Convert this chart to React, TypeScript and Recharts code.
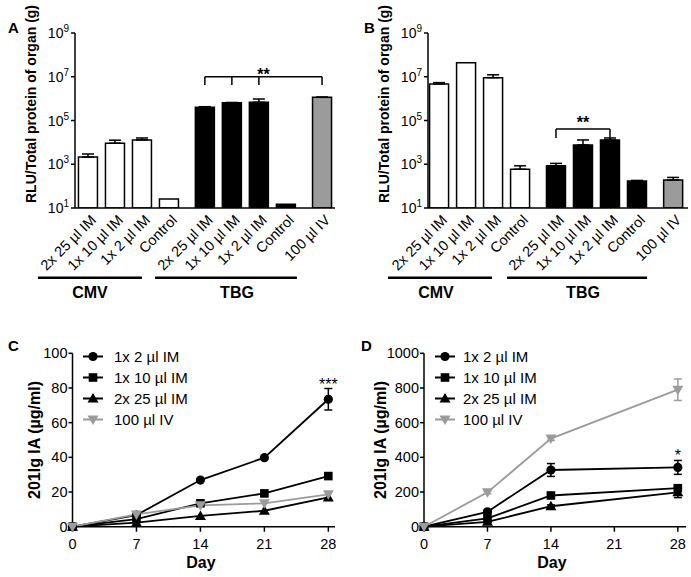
import React from 'react';
import {
  BarChart, Bar, Cell, XAxis, YAxis, ErrorBar, ReferenceLine, ReferenceDot,
  LineChart, Line, Legend, Label,
} from 'recharts';

const FONT = '"Liberation Sans", Arial, Helvetica, sans-serif';
const GRAY = '#9b9b9b';

// ---- panels A and B (RLU per organ, log axis) ----
const barLabels = [
  '2x 25 µl IM', '1x 10 µl IM', '1x 2 µl IM', 'Control',
  '2x 25 µl IM', '1x 10 µl IM', '1x 2 µl IM', 'Control',
  '100 µl IV',
];
const rluA = [2140, 9100, 12900, 26, 400000, 650000, 680000, 15, 1150000];
const rluAErr = [800, 3500, 3000, 0, 28000, 15000, 280000, 0, 15000];
const rluB = [4700000, 44000000, 9100000, 590, 850, 7600, 12900, 170, 190];
const rluBErr = [700000, 0, 3200000, 260, 245, 5300, 3000, 12, 60];
const logTicks = [1e1, 1e3, 1e5, 1e7, 1e9];

// significance brackets (bar indexes, levels on the y axis)
const bracketA = { level: 1e7, foot: 4.2e6, from: 4, to: 8, drops: [4, 5, 6, 8], mark: '**' };
const bracketB = { level: 4.1e4, foot: 1.6e4, from: 4, to: 6, drops: [4, 6], mark: '**' };

// ---- panels C and D (serum IgA over time) ----
const days = [0, 7, 14, 21, 28];
const seriesNames = ['1x 2 µl IM', '1x 10 µl IM', '2x 25 µl IM', '100 µl IV'];
const dayTicks = [0, 7, 14, 21, 28];

const cDose2 = [0, 6.7, 26.9, 39.8, 73.5];
const cDose2Err = [0, 0, 0, 0, 6.2];
const cDose10 = [0, 4.4, 13.5, 19.2, 29.2];
const cDose10Err = [0, 0, 0, 0, 0];
const cDose25 = [0, 2.3, 6.2, 9.2, 16.9];
const cDose25Err = [0, 0, 0, 0, 0];
const cIv = [0, 7.1, 12.3, 13.5, 18.7];
const cIvErr = [0, 0, 0, 0, 0];
const cTicks = [0, 20, 40, 60, 80, 100];

const dDose2 = [0, 86, 327, null, 342];
const dDose2Err = [0, 10, 37, null, 40];
const dDose10 = [0, 48, 180, null, 222];
const dDose10Err = [0, 5, 10, null, 14];
const dDose25 = [0, 28, 118, null, 198];
const dDose25Err = [0, 3, 8, null, 30];
const dIv = [0, 198, 508, null, 790];
const dIvErr = [0, 8, 10, null, 62];
const dTicks = [0, 200, 400, 600, 800, 1000];

// layout / style
const slotX = [0, 1, 2, 3, 4.33, 5.33, 6.33, 7.33, 8.67];
const barFill = ['#fff', '#fff', '#fff', '#fff', '#000', '#000', '#000', '#000', GRAY];
const series = [
  { key: 'd2', shape: 'circle', color: '#000' },
  { key: 'd10', shape: 'square', color: '#000' },
  { key: 'd25', shape: 'up', color: '#000' },
  { key: 'iv', shape: 'down', color: GRAY },
];

const axisStroke = { stroke: '#000', strokeWidth: 1.5 };

const barRows = (values, errs) =>
  barLabels.map((label, i) => ({
    pos: slotX[i],
    label,
    value: values[i],
    err: errs[i] ? [0, errs[i]] : null,
  }));

const lineRows = (a, ae, b, be, c, ce, d, de) =>
  days.map((day, i) => ({
    day,
    d2: a[i], d2e: ae[i],
    d10: b[i], d10e: be[i],
    d25: c[i], d25e: ce[i],
    iv: d[i], ive: de[i],
  }));

const rowsA = barRows(rluA, rluAErr);
const rowsB = barRows(rluB, rluBErr);
const rowsC = lineRows(cDose2, cDose2Err, cDose10, cDose10Err, cDose25, cDose25Err, cIv, cIvErr);
const rowsD = lineRows(dDose2, dDose2Err, dDose10, dDose10Err, dDose25, dDose25Err, dIv, dIvErr);

const PowTick = ({ x, y, payload }) => {
  const exp = Math.round(Math.log10(payload.value));
  return (
    <text x={x} y={y} dy={5} textAnchor="end" fontSize={14} fontFamily={FONT} fill="#000">
      10<tspan dy={-6} fontSize={10}>{exp}</tspan>
    </text>
  );
};

const SlantTick = ({ x, y, payload }) => {
  const i = slotX.indexOf(payload.value);
  const ax = x + 9;
  const ay = y + 11;
  return (
    <text x={ax} y={ay} transform={`rotate(-45 ${ax} ${ay})`} textAnchor="end"
      fontSize={14.5} fontFamily={FONT} fill="#000">
      {barLabels[i]}
    </text>
  );
};

const Title = ({ x, y, text, rotate }) => (
  <text x={x} y={y} dy={rotate ? '0.35em' : 0} textAnchor="middle"
    transform={rotate ? `rotate(-90 ${x} ${y})` : undefined}
    fontSize={rotate === 'small' ? 14 : 16} fontWeight="bold" fontFamily={FONT} fill="#000">
    {text}
  </text>
);

const Marker = ({ cx, cy, shape, color }) => {
  if (cx == null || cy == null) return <g />;
  if (shape === 'circle') return <circle cx={cx} cy={cy} r={4.6} fill={color} />;
  if (shape === 'square') return <rect x={cx - 4.3} y={cy - 4.3} width={8.6} height={8.6} fill={color} />;
  if (shape === 'up')
    return <polygon points={`${cx},${cy - 5.5} ${cx + 5.5},${cy + 4} ${cx - 5.5},${cy + 4}`} fill={color} />;
  return <polygon points={`${cx - 5.5},${cy - 4} ${cx + 5.5},${cy - 4} ${cx},${cy + 5.5}`} fill={color} />;
};

const SeriesLegend = ({ gap }) => (
  <div style={{ fontFamily: FONT, fontSize: 15, color: '#000' }}>
    {series.map((s, k) => (
      <div key={s.key} style={{ height: 21, display: 'flex', alignItems: 'center' }}>
        <svg width={20 + gap} height={21} style={{ display: 'block' }}>
          <line x1={0} x2={20} y1={10.5} y2={10.5} stroke={s.color} strokeWidth={2} />
          <Marker cx={10} cy={10.5} shape={s.shape} color={s.color} />
        </svg>
        <span style={{ whiteSpace: 'nowrap' }}>{seriesNames[k]}</span>
      </div>
    ))}
  </div>
);

function BarPanel({ rows, width, yAxisWidth, marginRight, domain, bracket, markOffset, titleX }) {
  return (
    <BarChart width={width} height={300} data={rows} margin={{ top: 33, right: marginRight, bottom: 0, left: 0 }}>
      <XAxis dataKey="pos" type="number" domain={domain} ticks={slotX} interval={0} allowDataOverflow
        height={92} tickSize={0} tickLine={false} axisLine={axisStroke}
        tick={(p) => <SlantTick {...p} />} />
      <YAxis type="number" scale="log" domain={[10, 1e9]} ticks={logTicks} interval={0} allowDataOverflow
        width={yAxisWidth} tickSize={4} tickMargin={2} axisLine={axisStroke} tickLine={axisStroke}
        tick={(p) => <PowTick {...p} />}
        label={<Label content={() => <Title x={titleX} y={104} rotate="small" text="RLU/Total protein of organ (g)" />} />} />
      <Bar dataKey="value" barSize={19} stroke="#000" strokeWidth={1.5} isAnimationActive={false}>
        {rows.map((r, i) => <Cell key={i} fill={barFill[i]} />)}
        <ErrorBar dataKey="err" width={6} stroke="#000" strokeWidth={1.5} direction="y" />
      </Bar>
      <ReferenceLine
        segment={[{ x: slotX[bracket.from], y: bracket.level }, { x: slotX[bracket.to], y: bracket.level }]}
        stroke="#000" strokeWidth={1.5}
        label={{ value: bracket.mark, position: 'top', offset: markOffset, fontSize: 16, fontWeight: 'bold', fill: '#000' }} />
      {bracket.drops.map((d) => (
        <ReferenceLine key={d}
          segment={[{ x: slotX[d], y: bracket.level }, { x: slotX[d], y: bracket.foot }]}
          stroke="#000" strokeWidth={1.5} />
      ))}
    </BarChart>
  );
}

function LinePanel({ rows, width, yAxisWidth, marginRight, xMax, yMax, yTicks, mark, markY, legendLeft, legendGap, titleX }) {
  return (
    <LineChart width={width} height={277} data={rows} margin={{ top: 53.3, right: marginRight, bottom: 0, left: 0 }}>
      <XAxis dataKey="day" type="number" domain={[0, xMax]} ticks={dayTicks} interval={0}
        height={50.3} tickSize={5} tickMargin={7} axisLine={axisStroke} tickLine={axisStroke}
        tick={{ fill: '#000', fontSize: 14.5, fontFamily: FONT }}
        label={<Label content={() => <Title x={titleX.day} y={268} text="Day" />} />} />
      <YAxis type="number" domain={[0, yMax]} ticks={yTicks} interval={0}
        width={yAxisWidth} tickSize={4} tickMargin={1} axisLine={axisStroke} tickLine={axisStroke}
        tick={{ fill: '#000', fontSize: 14.5, fontFamily: FONT }}
        label={<Label content={() => <Title x={titleX.y} y={140} rotate="big" text="201Ig IA (µg/ml)" />} />} />
      <Legend layout="vertical" align="center" verticalAlign="middle"
        wrapperStyle={{ left: legendLeft, top: 45.5, width: 220 }}
        content={() => <SeriesLegend gap={legendGap} />} />
      {series.map((s, k) => (
        <Line key={s.key} dataKey={s.key} name={seriesNames[k]} type="linear" stroke={s.color}
          strokeWidth={1.8} connectNulls isAnimationActive={false} activeDot={false}
          dot={(p) => <Marker key={`${s.key}-${p.index}`} cx={p.cx} cy={p.cy} shape={s.shape} color={s.color} />}>
          <ErrorBar dataKey={`${s.key}e`} width={4} stroke={s.color} strokeWidth={1.5} direction="y" />
        </Line>
      ))}
      <ReferenceDot x={28} y={markY} r={0} fill="none" stroke="none" ifOverflow="visible"
        label={{ value: mark, position: 'top', offset: -1, fontSize: 16, fill: '#000' }} />
    </LineChart>
  );
}

export default function App() {
  const letter = { fontFamily: FONT, fontSize: 15, fontWeight: 'bold', fill: '#000' };
  const group = { fontFamily: FONT, fontSize: 16, fontWeight: 'bold', fill: '#000', textAnchor: 'middle' };
  return (
    <div style={{ position: 'absolute', left: 0, top: 0, width: 691, height: 577, background: '#fff', fontFamily: FONT }}>
      <div style={{ position: 'absolute', left: 0, top: 0 }}>
        <BarPanel rows={rowsA} width={345} yAxisWidth={75} marginRight={10} domain={[-0.48, 9.15]}
          bracket={bracketA} markOffset={-3} titleX={31} />
      </div>
      <div style={{ position: 'absolute', left: 345, top: 0 }}>
        <BarPanel rows={rowsB} width={346} yAxisWidth={83} marginRight={3} domain={[-0.41, 9.22]}
          bracket={bracketB} markOffset={1} titleX={39} />
      </div>
      <div style={{ position: 'absolute', left: 0, top: 300 }}>
        <LinePanel rows={rowsC} width={345} yAxisWidth={72.5} marginRight={10} xMax={28.73} yMax={100}
          yTicks={cTicks} mark="***" markY={79.7} legendLeft={83} legendGap={11} titleX={{ y: 34, day: 201 }} />
      </div>
      <div style={{ position: 'absolute', left: 345, top: 300 }}>
        <LinePanel rows={rowsD} width={346} yAxisWidth={79} marginRight={5} xMax={28.9} yMax={1000}
          yTicks={dTicks} mark="*" markY={382} legendLeft={90} legendGap={8} titleX={{ y: 35, day: 207 }} />
      </div>
      <svg width={691} height={577} style={{ position: 'absolute', left: 0, top: 0, pointerEvents: 'none' }}>
        <text x={8} y={33} {...letter}>A</text>
        <text x={364} y={33} {...letter}>B</text>
        <text x={8} y={351} {...letter}>C</text>
        <text x={361} y={351} {...letter}>D</text>
        <line x1={38} x2={142} y1={277.7} y2={277.7} stroke="#000" strokeWidth={2.5} />
        <line x1={155} x2={297} y1={277.7} y2={277.7} stroke="#000" strokeWidth={2.5} />
        <line x1={388} x2={492} y1={277.7} y2={277.7} stroke="#000" strokeWidth={2.5} />
        <line x1={507} x2={647} y1={277.7} y2={277.7} stroke="#000" strokeWidth={2.5} />
        <text x={90} y={298} {...group}>CMV</text>
        <text x={237} y={298} {...group}>TBG</text>
        <text x={436} y={298} {...group}>CMV</text>
        <text x={583} y={298} {...group}>TBG</text>
      </svg>
    </div>
  );
}
